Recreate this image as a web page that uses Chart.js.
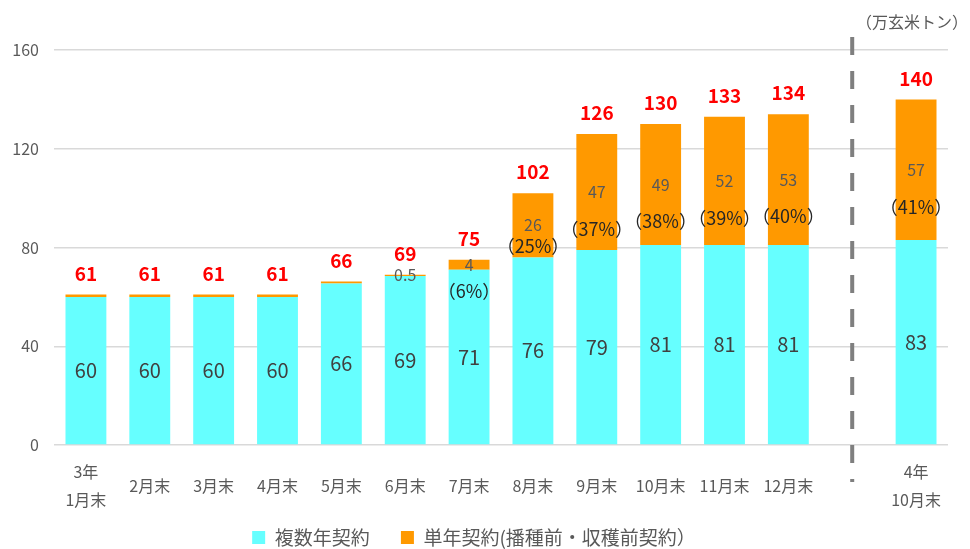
<!DOCTYPE html>
<html>
<head>
<meta charset="utf-8">
<script src="https://cdn.jsdelivr.net/npm/chart.js@4.4.1/dist/chart.umd.min.js"></script>
<style>
  html, body { margin: 0; padding: 0; background: #fff; }
  #wrap { width: 970px; height: 549px; }
</style>
</head>
<body>
<div id="wrap"><canvas id="chart" width="970" height="549"></canvas></div>
<script>
const categories = [["3年", "1月末"], "2月末", "3月末", "4月末", "5月末", "6月末", "7月末", "8月末", "9月末", "10月末", "11月末", "12月末", "", ["4年", "10月末"]];
const multiYear = [60, 60, 60, 60, 65.4, 68.5, 71, 76, 79, 81, 81, 81, null, 83];
const singleYear = [1, 1, 1, 1, 0.8, 0.5, 4, 26, 47, 49, 52, 53, null, 57];
const singleLabels = ["", "", "", "", "", "0.5", "4", "26", "47", "49", "52", "53", "", "57"];
const multiLabels = ["60", "60", "60", "60", "66", "69", "71", "76", "79", "81", "81", "81", "", "83"];
const totals = [61, 61, 61, 61, 66, 69, 75, 102, 126, 130, 133, 134, null, 140];
const shares = [null, null, null, null, null, null, 6, 25, 37, 38, 39, 40, null, 41];
const yTicks = [0, 40, 80, 120, 160];

const FONT = "'Noto Sans CJK JP', 'Noto Sans', sans-serif";
const dividerIndex = 12;

// labels, totals, divider and unit text
const labelPlugin = {
  id: "labels",
  afterDatasetsDraw(chart) {
    const ctx = chart.ctx;
    const cyan = chart.getDatasetMeta(0).data;
    const orange = chart.getDatasetMeta(1).data;
    ctx.save();
    ctx.textAlign = "center";
    ctx.textBaseline = "middle";
    categories.forEach((c, i) => {
      if (totals[i] === null) return;
      const a = cyan[i], b = orange[i];
      // multi-year value
      ctx.fillStyle = "#404040";
      ctx.font = "20px " + FONT;
      ctx.fillText(multiLabels[i], a.x, (a.y + a.base) / 2);
      // single-year value
      const mid = (b.y + b.base) / 2;
      if (singleLabels[i]) {
        ctx.fillStyle = "#595959";
        ctx.font = "16px " + FONT;
        ctx.fillText(singleLabels[i], b.x, mid);
      }
      if (shares[i] !== null) {
        const h = b.base - b.y;
        let py;
        if (h > 80) py = mid + 37;
        else if (h > 30) py = b.base - 11;
        else py = b.base + 21;
        ctx.fillStyle = "#262626";
        ctx.font = "18px " + FONT;
        ctx.fillText("（" + shares[i] + "%）", b.x, py);
      }
      // total
      ctx.fillStyle = "#ff0000";
      ctx.font = "bold 19px " + FONT;
      ctx.fillText(String(totals[i]), b.x, b.y - 21);
    });
    // dashed divider
    const xd = chart.scales.x.getPixelForValue(dividerIndex);
    ctx.strokeStyle = "#7f7f7f";
    ctx.lineWidth = 4;
    ctx.setLineDash([18, 16]);
    ctx.beginPath();
    ctx.moveTo(xd, 37);
    ctx.lineTo(xd, 482);
    ctx.stroke();
    ctx.setLineDash([]);
    // unit
    ctx.fillStyle = "#595959";
    ctx.font = "16px " + FONT;
    ctx.textAlign = "right";
    ctx.fillText("（万玄米トン）", 968, 22);
    ctx.restore();
  }
};

new Chart(document.getElementById("chart"), {
  type: "bar",
  data: {
    labels: categories,
    datasets: [
      {
        label: "複数年契約",
        data: multiYear,
        backgroundColor: "#66ffff",
        categoryPercentage: 0.64,
        barPercentage: 1.0
      },
      {
        label: "単年契約(播種前・収穫前契約）",
        data: singleYear,
        backgroundColor: "#ff9900",
        categoryPercentage: 0.64,
        barPercentage: 1.0
      }
    ]
  },
  options: {
    responsive: false,
    animation: false,
    layout: { padding: { left: 0, right: 22, top: 50, bottom: -8 } },
    scales: {
      x: {
        stacked: true,
        grid: { display: false },
        border: { display: false },
        afterFit: (scale) => { scale.height = 75; },
        ticks: {
          color: "#595959",
          font: { family: FONT, size: 16, lineHeight: 1.75 },
          maxRotation: 0,
          autoSkip: false,
          padding: 19,
          crossAlign: "center"
        }
      },
      y: {
        stacked: true,
        min: 0,
        max: 160,
        afterFit: (scale) => { scale.width = 54; },
        afterBuildTicks: (scale) => { scale.ticks = yTicks.map((v) => ({ value: v })); },
        border: { display: false },
        grid: { color: "#d9d9d9", lineWidth: 1.5, drawTicks: false },
        ticks: {
          color: "#595959",
          font: { family: FONT, size: 16 },
          padding: 15
        }
      }
    },
    plugins: {
      legend: {
        position: "bottom",
        labels: {
          boxWidth: 13,
          boxHeight: 13,
          padding: 8,
          color: "#595959",
          font: { family: FONT, size: 19 },
          generateLabels: (chart) => {
            const items = Chart.defaults.plugins.legend.labels.generateLabels(chart);
            items[0].text = items[0].text + "\u3000 ";
            return items;
          }
        }
      },
      tooltip: { enabled: false }
    }
  },
  plugins: [labelPlugin]
});
</script>
</body>
</html>
